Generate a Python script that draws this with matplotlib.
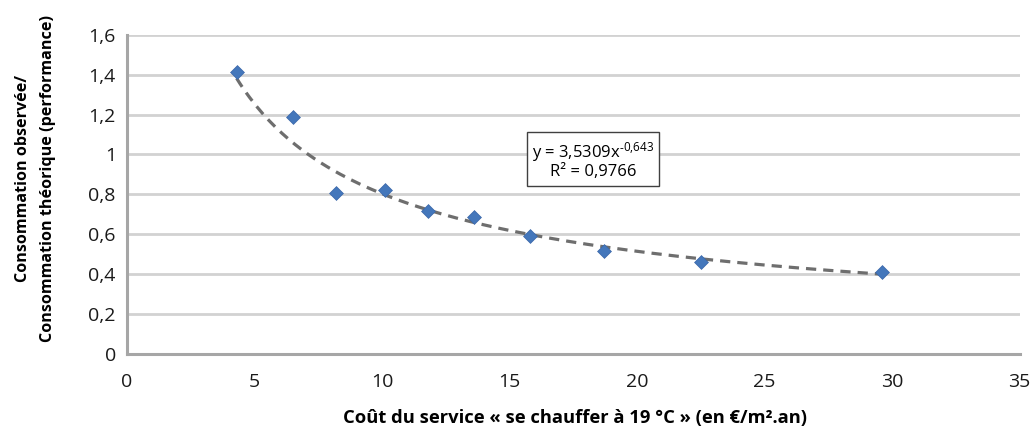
import matplotlib
matplotlib.use("Agg")
import matplotlib.pyplot as plt
import numpy as np

# Data
cost = [4.3, 6.5, 8.2, 10.1, 11.8, 13.6, 15.8, 18.7, 22.5, 29.6]
ratio = [1.415, 1.19, 0.805, 0.82, 0.715, 0.685, 0.59, 0.515, 0.46, 0.41]
# Power trendline coefficients shown on the chart
coef_a = 3.5309
coef_b = -0.643
eq_text = "y = 3,5309x$^{\u2010 0{,}643}$"
r2_text = "R² = 0,9766"
x_ticks = [0, 5, 10, 15, 20, 25, 30, 35]
y_ticks = [0, 0.2, 0.4, 0.6, 0.8, 1.0, 1.2, 1.4, 1.6]
y_tick_labels = ["0", "0,2", "0,4", "0,6", "0,8", "1", "1,2", "1,4", "1,6"]
x_label = "Coût du service « se chauffer à 19 °C » (en €/m².an)"
y_label = "Consommation observée/\nConsommation théorique (performance)"

plt.rcParams['font.family'] = ['Open Sans', 'DejaVu Sans']
plt.rcParams['mathtext.default'] = 'regular'

fig = plt.figure(figsize=(10.32, 4.30), dpi=100)
ax = fig.add_axes([0.123, 0.177, 0.865, 0.742])

ax.set_xlim(0, 35)
ax.set_ylim(0, 1.6)
ax.set_xticks(x_ticks)
ax.set_xticklabels([str(t) for t in x_ticks])
ax.set_yticks(y_ticks)
ax.set_yticklabels(y_tick_labels)
ax.tick_params(axis='both', length=0, labelsize=14, colors='#1a1a1a')
ax.tick_params(axis='x', pad=14)
ax.tick_params(axis='y', pad=8)

ax.grid(axis='y', color='#d2d2d2', linewidth=2)
ax.set_axisbelow(True)
for s in ['top', 'right']:
    ax.spines[s].set_visible(False)
for s in ['left', 'bottom']:
    ax.spines[s].set_color('#a6a6a6')
    ax.spines[s].set_linewidth(2.2)

# trendline
xt = np.linspace(min(cost), max(cost), 200)
yt = coef_a * xt ** coef_b
ax.plot(xt, yt, linestyle=(0, (3.2, 2.2)), color='#6e6e6e', linewidth=2.3, zorder=2)

ax.scatter(cost, ratio, marker='D', s=50, color='#4477bb', edgecolors='#3a66a8',
           linewidths=0.5, zorder=3, clip_on=False)

ax.text(0.522, 0.607, eq_text + "\n" + r2_text, transform=ax.transAxes,
        ha='center', va='center', fontsize=12, linespacing=1.05,
        bbox=dict(boxstyle='square,pad=0.32', facecolor='white', edgecolor='#404040', linewidth=1))

fig.text(0.557, 0.028, x_label, ha='center', va='center', fontsize=13.2, fontweight='bold')
fig.text(0.034, 0.585, y_label, ha='center', va='center', rotation=90, fontsize=11.6,
         fontweight='bold', linespacing=1.75)

fig.savefig("out.png", dpi=100)
